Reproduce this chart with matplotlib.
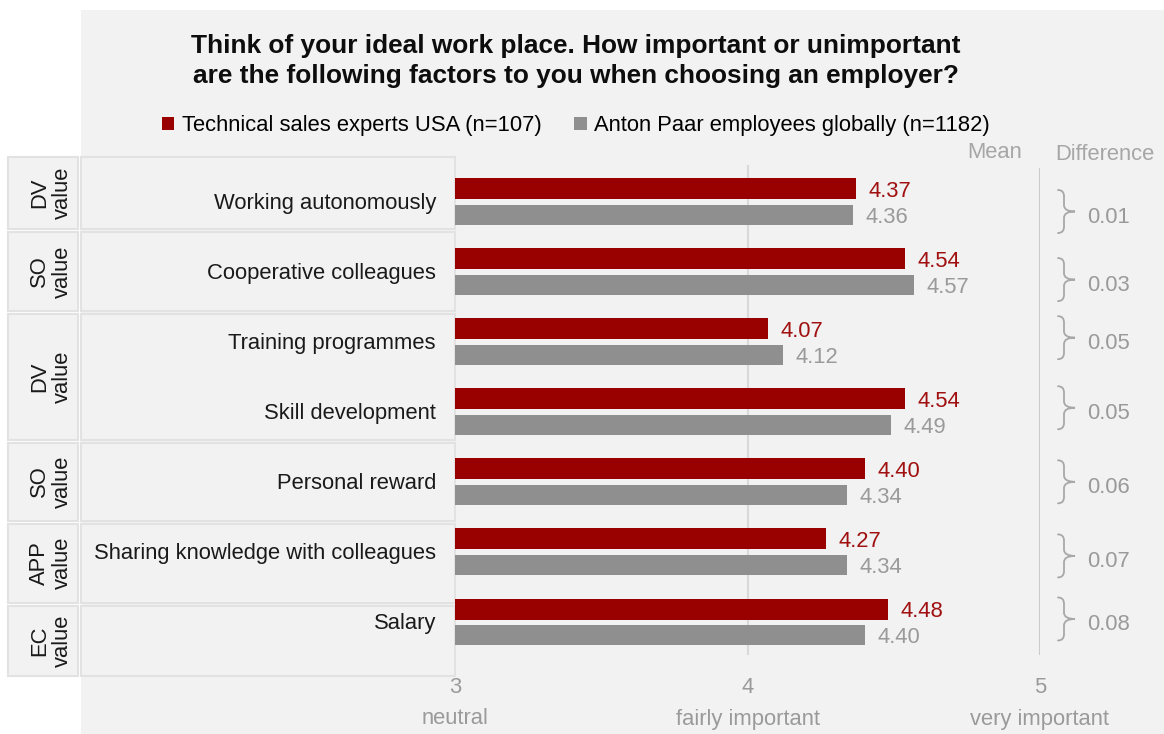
import numpy as np
import matplotlib.pyplot as plt
import matplotlib.transforms as mtransforms
from matplotlib.patches import Rectangle, PathPatch
from matplotlib.path import Path

plt.rcParams['font.family'] = ['Liberation Sans', 'DejaVu Sans']

# survey means (1 = unimportant ... 5 = very important)
factors = ['Working autonomously', 'Cooperative colleagues', 'Training programmes',
           'Skill development', 'Personal reward', 'Sharing knowledge with colleagues',
           'Salary']
usa_mean = [4.37, 4.54, 4.07, 4.54, 4.40, 4.27, 4.48]
global_mean = [4.36, 4.57, 4.12, 4.49, 4.34, 4.34, 4.40]
value_groups = ['DV', 'SO', 'DV', 'SO', 'APP', 'EC']
scale_ticks = [3, 4, 5]
scale_labels = ['neutral', 'fairly important', 'very important']
series_names = ['Technical sales experts USA (n=107)',
                'Anton Paar employees globally (n=1182)']

# layout (pixels)
W, H = 1164, 734
group_edges_px = [157, 230.5, 312.5, 441, 522, 604.5, 676]
brace_nudge_px = [10, 8, -4, -4, 0, 4, -3]

RED = '#990000'
GREY = '#8f8f8f'
RED_TXT = '#a01010'
GREY_TXT = '#9a9a9a'
BG = '#f2f2f2'
EDGE = '#e2e2e2'
FS = 15.8

ROW0, ROWSTEP = 201.5, 70.08


def py(p):
    return (p - ROW0) / ROWSTEP


def px(p):
    return 3 + (p - 455) / 292.5


def brace(ax, y_mid, half, x0, x1, x2, color):
    # curly brace opening to the left, tip pointing right
    verts = [(x0, y_mid - half), (x1, y_mid - half), (x1, y_mid - half + 0.09),
             (x1, y_mid - 0.09),
             (x1, y_mid), (x2, y_mid),
             (x1, y_mid), (x1, y_mid + 0.09),
             (x1, y_mid + half - 0.09),
             (x1, y_mid + half), (x0, y_mid + half)]
    codes = [Path.MOVETO, Path.CURVE3, Path.CURVE3, Path.LINETO,
             Path.CURVE3, Path.CURVE3, Path.CURVE3, Path.CURVE3,
             Path.LINETO, Path.CURVE3, Path.CURVE3]
    ax.add_patch(PathPatch(Path(verts, codes), facecolor='none', edgecolor=color,
                           lw=1.3, clip_on=False, capstyle='round'))


fig = plt.figure(figsize=(W / 100, H / 100), dpi=100)
fig.patch.set_facecolor('white')
fig.add_artist(Rectangle((81 / W, 0), 1 - 81 / W, 1 - 10 / H, transform=fig.transFigure,
                         facecolor=BG, edgecolor='none', zorder=-10))

ax = fig.add_axes([455 / W, 1 - 676 / H, 585 / W, 519 / H])
ax.patch.set_visible(False)
ax.set_xlim(3, 5)
ax.set_ylim(py(676), py(157))
for s in ax.spines.values():
    s.set_visible(False)

y = np.arange(len(factors))
usa = np.array(usa_mean)
glob = np.array(global_mean)

ax.vlines(4, py(165), py(655), color='#d9d9d9', lw=1.5, zorder=0)
ax.vlines(5, py(168), py(655), color='#cccccc', lw=1.5, zorder=0)

b1 = ax.barh(y - 0.185, usa - 3, left=3, height=0.30, color=RED, label=series_names[0], zorder=2)
b2 = ax.barh(y + 0.19, glob - 3, left=3, height=0.29, color=GREY, label=series_names[1], zorder=2)

for yi, v in zip(y, usa):
    ax.annotate(f'{v:.2f}', xy=(v, yi - 0.185), xytext=(9, -1.8), textcoords='offset points',
                va='center', ha='left', fontsize=FS, color=RED_TXT)
for yi, v in zip(y, glob):
    ax.annotate(f'{v:.2f}', xy=(v, yi + 0.19), xytext=(9, -1.8), textcoords='offset points',
                va='center', ha='left', fontsize=FS, color=GREY_TXT)

# category labels
for yi, name in zip(y, factors):
    ax.text(px(436), yi + 2 / ROWSTEP, name, ha='right', va='center', fontsize=FS,
            color='#1a1a1a')

# value group boxes + label boxes (behind the axes content)
trans = mtransforms.blended_transform_factory(fig.transFigure, ax.transData)
gap = 1.5
for k, grp in enumerate(value_groups):
    top = py(group_edges_px[k] + (gap if k > 0 else 0))
    bot = py(group_edges_px[k + 1] - (gap if k < len(value_groups) - 1 else 0))
    fig.add_artist(Rectangle((8 / W, bot), 70 / W, top - bot, transform=trans,
                             facecolor=BG, edgecolor=EDGE, lw=1.5, zorder=-5))
    fig.add_artist(Rectangle((81 / W, bot), 374 / W, top - bot, transform=trans,
                             facecolor=BG, edgecolor=EDGE, lw=1.5, zorder=-5))
    fig.text(51 / W, (top + bot) / 2, f'{grp}\nvalue', transform=trans, rotation=90,
             ha='center', va='center', multialignment='center', fontsize=FS,
             linespacing=1.1, color='#1a1a1a', zorder=3)

# difference column
diffs = np.round(np.abs(usa - glob), 2)
for yi, d, nudge in zip(y, diffs, brace_nudge_px):
    ym = yi + nudge / ROWSTEP
    brace(ax, ym, 21.5 / ROWSTEP, px(1058), px(1064), px(1075), '#a8a8a8')
    ax.text(px(1087), ym + 6 / ROWSTEP, f'{d:.2f}', ha='left', va='center',
            fontsize=FS, color=GREY_TXT)

ax.text(px(995), py(152), 'Mean', ha='center', va='center', fontsize=FS, color='#a6a6a6')
ax.text(px(1105), py(154), 'Difference', ha='center', va='center', fontsize=FS,
        color='#a6a6a6')

# scale axis
ax.set_yticks([])
ax.set_xticks(scale_ticks)
ax.set_xticklabels([str(t) for t in scale_ticks])
ax.tick_params(axis='x', length=0, labelsize=FS, labelcolor=GREY_TXT, pad=1)
for t, lab in zip(scale_ticks, scale_labels):
    ax.text(t, py(719), lab, ha='center', va='center', fontsize=FS, color=GREY_TXT)

# title and legend
fig.text(576 / W, 1 - 46.5 / H, 'Think of your ideal work place. How important or unimportant',
         ha='center', va='center', fontsize=18.9, fontweight='bold', color='#0d0d0d')
fig.text(576 / W, 1 - 76.5 / H, 'are the following factors to you when choosing an employer?',
         ha='center', va='center', fontsize=18.9, fontweight='bold', color='#0d0d0d')
fig.legend(handles=[b1, b2], loc='center', bbox_to_anchor=(576 / W, 1 - 126 / H), ncol=2,
           frameon=False, fontsize=FS, handlelength=0.55, handleheight=0.55,
           handletextpad=0.35, columnspacing=1.5, borderpad=0)

fig.savefig('out.png', dpi=100, facecolor='white')
